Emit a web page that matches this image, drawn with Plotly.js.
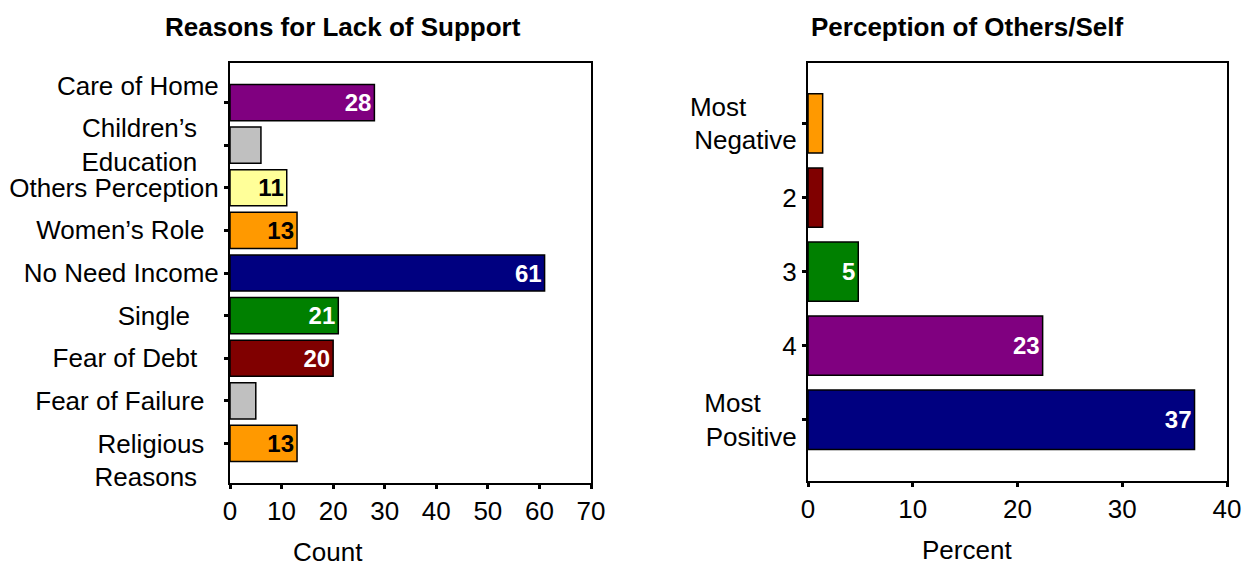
<!DOCTYPE html>
<html>
<head>
<meta charset="utf-8">
<script src="https://cdn.plot.ly/plotly-3.0.1.min.js"></script>
<style>html,body{margin:0;padding:0;background:#fff;}#chart{width:1248px;height:567px;}</style>
</head>
<body>
<div id="chart"></div>
<script>
// Left chart: Reasons for Lack of Support (top to bottom)
var reasonCategories = [
  "Care of Home<br>",
  "Children\u2019s\u00A0\u00A0\u00A0<br>Education\u00A0\u00A0\u00A0",
  "Others Perception",
  "Women\u2019s Role\u00A0\u00A0",
  "No Need Income",
  "Single\u00A0\u00A0\u00A0\u00A0",
  "Fear of Debt\u00A0\u00A0\u00A0",
  "Fear of Failure\u00A0\u00A0",
  "<br>Religious\u00A0\u00A0<br>Reasons\u00A0\u00A0\u00A0"
];
var reasonCounts = [28, 6, 11, 13, 61, 21, 20, 5, 13];
var reasonLabels = ["28", "", "11", "13", "61", "21", "20", "", "13"];
var reasonColors = ["#800080", "#C0C0C0", "#FFFF99", "#FF9900", "#000080", "#008000", "#800000", "#C0C0C0", "#FF9900"];
var reasonTextColors = ["#FFFFFF", "#000000", "#000000", "#000000", "#FFFFFF", "#FFFFFF", "#FFFFFF", "#000000", "#000000"];

// Right chart: Perception of Others/Self (top to bottom)
var perceptionCategories = [
  "Most\u00A0\u00A0\u00A0\u00A0\u00A0\u00A0\u00A0<br>Negative",
  "2",
  "3",
  "4",
  "Most\u00A0\u00A0\u00A0\u00A0\u00A0<br>Positive"
];
var perceptionPercents = [1.4, 1.4, 4.8, 22.4, 36.9];
var perceptionLabels = ["", "", "5", "23", "37"];
var perceptionColors = ["#FF9900", "#800000", "#008000", "#800080", "#000080"];
var perceptionTextColors = ["#000000", "#FFFFFF", "#FFFFFF", "#FFFFFF", "#FFFFFF"];

var FONT = "Liberation Sans, Arial, Helvetica, sans-serif";

var traces = [
  {
    type: "bar", orientation: "h",
    x: reasonCounts, y: reasonCategories,
    xaxis: "x", yaxis: "y",
    width: 0.85,
    marker: {color: reasonColors, line: {color: "#000000", width: 1.5}},
    text: reasonLabels,
    textposition: "inside",
    insidetextanchor: "end",
    textangle: 0,
    constraintext: "none",
    textfont: {family: FONT, size: 24, weight: "bold", color: reasonTextColors},
    hoverinfo: "x+y",
    cliponaxis: false
  },
  {
    type: "bar", orientation: "h",
    x: perceptionPercents, y: perceptionCategories,
    xaxis: "x2", yaxis: "y2",
    width: 0.8,
    marker: {color: perceptionColors, line: {color: "#000000", width: 1.5}},
    text: perceptionLabels,
    textposition: "inside",
    insidetextanchor: "end",
    textangle: 0,
    constraintext: "none",
    textfont: {family: FONT, size: 24, weight: "bold", color: perceptionTextColors},
    hoverinfo: "x+y",
    cliponaxis: false
  }
];

var axisCommon = {
  showline: true, mirror: true, linecolor: "#000000", linewidth: 2,
  showgrid: false, zeroline: false,
  ticks: "outside", ticklen: 4, tickwidth: 3, tickcolor: "#000000",
  tickfont: {family: FONT, size: 26, color: "#000000"},
  fixedrange: true
};

var layout = {
  width: 1248, height: 567,
  margin: {l: 0, r: 0, t: 0, b: 0},
  paper_bgcolor: "#FFFFFF", plot_bgcolor: "#FFFFFF",
  showlegend: false,
  font: {family: FONT, color: "#000000"},
  xaxis: Object.assign({}, axisCommon, {
    domain: [230/1248, 591/1248], anchor: "y",
    range: [0, 70], dtick: 10, tick0: 0
  }),
  yaxis: Object.assign({}, axisCommon, {
    domain: [(567-482.7)/567, (567-63.3)/567], anchor: "x",
    type: "category", categoryorder: "array", categoryarray: reasonCategories,
    range: [8.92, -0.92], ticklabelstandoff: 0
  }),
  xaxis2: Object.assign({}, axisCommon, {
    domain: [808/1248, 1227/1248], anchor: "y2",
    range: [0, 40], dtick: 10, tick0: 0
  }),
  yaxis2: Object.assign({}, axisCommon, {
    domain: [(567-480.5)/567, (567-62.7)/567], anchor: "x2",
    type: "category", categoryorder: "array", categoryarray: perceptionCategories,
    range: [4.82, -0.82], ticklabelstandoff: 0
  }),
  annotations: [
    {text: "<b>Reasons for Lack of Support</b>", xref: "paper", yref: "paper",
     x: 343/1248, y: (567-27)/567, xanchor: "center", yanchor: "middle",
     showarrow: false, font: {family: FONT, size: 26, color: "#000000"}},
    {text: "<b>Perception of Others/Self</b>", xref: "paper", yref: "paper",
     x: 967/1248, y: (567-27)/567, xanchor: "center", yanchor: "middle",
     showarrow: false, font: {family: FONT, size: 26, color: "#000000"}},
    {text: "Count", xref: "paper", yref: "paper",
     x: 328/1248, y: (567-552)/567, xanchor: "center", yanchor: "middle",
     showarrow: false, font: {family: FONT, size: 26, color: "#000000"}},
    {text: "Percent", xref: "paper", yref: "paper",
     x: 967/1248, y: (567-550)/567, xanchor: "center", yanchor: "middle",
     showarrow: false, font: {family: FONT, size: 26, color: "#000000"}}
  ]
};

Plotly.newPlot("chart", traces, layout, {staticPlot: true, displayModeBar: false});
</script>
</body>
</html>
